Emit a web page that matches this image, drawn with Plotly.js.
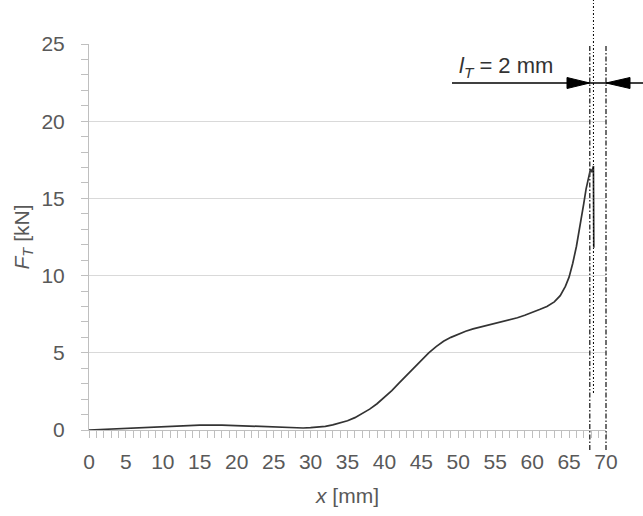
<!DOCTYPE html>
<html>
<head>
<meta charset="utf-8">
<script src="https://cdn.plot.ly/plotly-3.0.1.min.js"></script>
<style>html,body{margin:0;padding:0;background:#fff;}</style>
</head>
<body>
<div id="chart" style="width:643px;height:516px;"></div>
<script>
// Data
const xMm = [0, 3, 6, 9, 12, 15, 18, 21, 24, 27, 29, 30, 31, 32, 33, 34, 35, 36, 37, 38, 39, 40, 41, 42, 43, 44, 45, 46, 47, 48, 49, 50, 51, 52, 53, 54, 55, 56, 57, 58, 59, 60, 61, 62, 63, 63.8, 64.5, 65, 65.5, 66, 66.5, 67, 67.3, 67.6, 67.9, 68.1, 68.3, 68.35];
const forceKN = [0, 0.07, 0.15, 0.22, 0.29, 0.32, 0.32, 0.27, 0.18, 0.13, 0.13, 0.15, 0.18, 0.24, 0.33, 0.45, 0.6, 0.8, 1.05, 1.35, 1.7, 2.1, 2.55, 3.05, 3.55, 4.05, 4.55, 5.0, 5.4, 5.75, 6.0, 6.22, 6.4, 6.55, 6.67, 6.78, 6.88, 7.0, 7.12, 7.27, 7.43, 7.6, 7.8, 8.0, 8.3, 8.7, 9.3, 9.9, 10.8, 11.9, 13.2, 14.7, 15.6, 16.35, 16.9, 16.7, 17.1, 11.8];
const xTickVals = [0, 5, 10, 15, 20, 25, 30, 35, 40, 45, 50, 55, 60, 65, 70];
const yTickVals = [0, 5, 10, 15, 20, 25];
const markerLines = [67.8, 70];   // dash-dot limits (mm)
const peakLine = 68.3;            // dotted line (mm)
const lT = 2;                     // mm

const X_MAX = 70, Y_MAX = 25;
const W = 643, H = 516, ML = 89, MR = 37, MT = 44, MB = 86;
const PW = W - ML - MR, PH = H - MT - MB;
const px2dx = p => (p - ML) / PW;
const px2dy = p => (H - MB - p) / PH;
const dx = v => v / X_MAX;

const FONT = '"Liberation Sans Narrow", "Arial Narrow", "Liberation Sans", Arial, sans-serif';
const TXT = '#595959';

const arrowY = px2dy(83);
const hh = 5.5 / PH;

const shapes = [];
markerLines.forEach(v => shapes.push({
  type: 'line', xref: 'paper', yref: 'paper',
  x0: dx(v), x1: dx(v), y0: px2dy(450), y1: 1,
  line: {color: '#404040', width: 1.5, dash: '5px,2px,1.5px,2px'}
}));
shapes.push({
  type: 'line', xref: 'paper', yref: 'paper',
  x0: dx(peakLine), x1: dx(peakLine), y0: px2dy(393), y1: px2dy(0),
  line: {color: '#000', width: 1, dash: '2px,2px,1px,2px'}
});
shapes.push({
  type: 'line', xref: 'paper', yref: 'paper',
  x0: px2dx(452), x1: px2dx(643), y0: arrowY, y1: arrowY,
  line: {color: '#000', width: 1.5}
});
const lt = dx(markerLines[0]), rt = dx(markerLines[1]);
shapes.push({
  type: 'path', xref: 'paper', yref: 'paper',
  path: `M ${lt} ${arrowY} L ${px2dx(567)} ${arrowY + hh} L ${px2dx(567)} ${arrowY - hh} Z`,
  fillcolor: '#000', line: {color: '#000', width: 1}
});
shapes.push({
  type: 'path', xref: 'paper', yref: 'paper',
  path: `M ${rt} ${arrowY} L ${px2dx(630)} ${arrowY + hh} L ${px2dx(630)} ${arrowY - hh} Z`,
  fillcolor: '#000', line: {color: '#000', width: 1}
});

const trace = {
  x: xMm, y: forceKN, type: 'scatter', mode: 'lines',
  line: {color: '#333333', width: 1.7},
  hoverinfo: 'skip', cliponaxis: false
};

const axisCommon = {
  showline: true, linecolor: '#bfbfbf', linewidth: 1,
  ticks: 'outside', ticklen: 7, tickcolor: '#bfbfbf', tickwidth: 1,
  zeroline: false,
  tickfont: {family: FONT, size: 21, color: TXT},
  minor: {dtick: 1, ticks: 'outside', ticklen: 7, tickcolor: '#bfbfbf', tickwidth: 1, showgrid: false}
};

const layout = {
  width: W, height: H,
  margin: {l: ML, r: MR, t: MT, b: MB},
  paper_bgcolor: '#fff', plot_bgcolor: '#fff',
  showlegend: false,
  xaxis: Object.assign({}, axisCommon, {
    range: [0, X_MAX], tickvals: xTickVals, showgrid: false,
    ticklabelstandoff: 6,
    title: {text: '<i>x</i> [mm]', font: {family: FONT, size: 21, color: TXT}, standoff: 16}
  }),
  yaxis: Object.assign({}, axisCommon, {
    range: [0, Y_MAX], tickvals: yTickVals, showgrid: true, gridcolor: '#d9d9d9', gridwidth: 1,
    ticklabelstandoff: 12,
    title: {text: '<i>F</i><sub><i>T</i></sub> [kN]', font: {family: FONT, size: 21, color: TXT}, standoff: 6}
  }),
  shapes: shapes,
  annotations: [{
    xref: 'paper', yref: 'paper', x: px2dx(457), y: px2dy(67),
    xanchor: 'left', yanchor: 'middle', showarrow: false,
    text: '<i>l</i><sub><i>T</i></sub> = ' + lT + ' mm',
    font: {family: FONT, size: 22, color: '#333333'}
  }]
};

Plotly.newPlot('chart', [trace], layout, {displayModeBar: false, staticPlot: true});
</script>
</body>
</html>
